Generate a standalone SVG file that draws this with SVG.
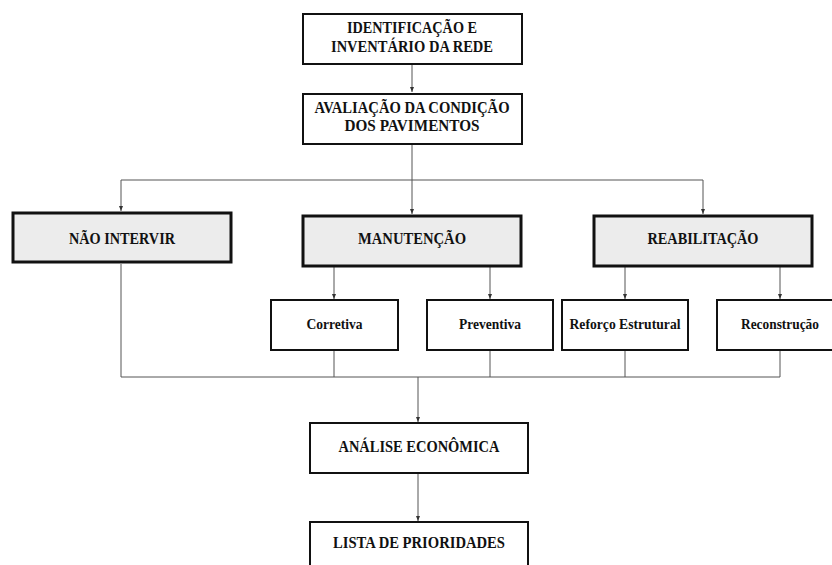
<svg xmlns="http://www.w3.org/2000/svg" width="832" height="565" viewBox="0 0 832 565">
<style>
text{font-family:"Liberation Serif","Times New Roman",serif;font-weight:bold;fill:#111;text-anchor:middle}
.t{font-size:16px}
.s{font-size:14.5px}
.w{fill:#fff;stroke:#111;stroke-width:2}
.g{fill:#ececec;stroke:#111;stroke-width:3}
.c{fill:none;stroke:#555;stroke-width:1}
</style>
<defs>
<marker id="a" markerWidth="5" markerHeight="4" refX="5" refY="2" orient="auto" markerUnits="userSpaceOnUse">
<path d="M0,0 L5,2 L0,4 z" fill="#333"/>
</marker>
</defs>
<rect width="832" height="565" fill="#fff"/>
<g id="connectors">
<path class="c" d="M412,65 V92" marker-end="url(#a)"/>
<path class="c" d="M412,145 V214" marker-end="url(#a)"/>
<path class="c" d="M121,180 H703"/>
<path class="c" d="M121,180 V211" marker-end="url(#a)"/>
<path class="c" d="M703,180 V214" marker-end="url(#a)"/>
<path class="c" d="M334,267 V299" marker-end="url(#a)"/>
<path class="c" d="M490,267 V299" marker-end="url(#a)"/>
<path class="c" d="M625,267 V299" marker-end="url(#a)"/>
<path class="c" d="M780,267 V299" marker-end="url(#a)"/>
<path class="c" d="M121,264 V377 H780 V351"/>
<path class="c" d="M334,351 V377"/>
<path class="c" d="M490,351 V377"/>
<path class="c" d="M625,351 V377"/>
<path class="c" d="M418,377 V422" marker-end="url(#a)"/>
<path class="c" d="M418,474 V521" marker-end="url(#a)"/>
</g>
<g id="n1"><rect class="w" x="303" y="14" width="219" height="50"/><text class="t" x="412" y="33" textLength="130" lengthAdjust="spacingAndGlyphs">IDENTIFICAÇÃO E</text><text class="t" x="412" y="52" textLength="162" lengthAdjust="spacingAndGlyphs">INVENTÁRIO DA REDE</text></g>
<g id="n2"><rect class="w" x="303" y="94" width="219" height="50"/><text class="t" x="412" y="113" textLength="195" lengthAdjust="spacingAndGlyphs">AVALIAÇÃO DA CONDIÇÃO</text><text class="t" x="412" y="131" textLength="135" lengthAdjust="spacingAndGlyphs">DOS PAVIMENTOS</text></g>
<g id="n3"><rect class="g" x="13" y="213" width="218" height="49"/><text class="t" x="122" y="244" textLength="106" lengthAdjust="spacingAndGlyphs">NÃO INTERVIR</text></g>
<g id="n4"><rect class="g" x="303" y="216" width="218" height="50"/><text class="t" x="412" y="244" textLength="108" lengthAdjust="spacingAndGlyphs">MANUTENÇÃO</text></g>
<g id="n5"><rect class="g" x="594" y="216" width="218" height="50"/><text class="t" x="703" y="244" textLength="111" lengthAdjust="spacingAndGlyphs">REABILITAÇÃO</text></g>
<g id="n6"><rect class="w" x="271" y="300" width="127" height="50"/><text class="s" x="334.5" y="329" textLength="56" lengthAdjust="spacingAndGlyphs">Corretiva</text></g>
<g id="n7"><rect class="w" x="427" y="300" width="126" height="50"/><text class="s" x="490" y="329" textLength="62" lengthAdjust="spacingAndGlyphs">Preventiva</text></g>
<g id="n8"><rect class="w" x="562" y="300" width="126" height="50"/><text class="s" x="625" y="329" textLength="111" lengthAdjust="spacingAndGlyphs">Reforço Estrutural</text></g>
<g id="n9"><rect class="w" x="717" y="300" width="126" height="50"/><text class="s" x="780" y="329" textLength="78" lengthAdjust="spacingAndGlyphs">Reconstrução</text></g>
<g id="n10"><rect class="w" x="310" y="423" width="218" height="50"/><text class="t" x="419" y="452" textLength="161" lengthAdjust="spacingAndGlyphs">ANÁLISE ECONÔMICA</text></g>
<g id="n11"><rect class="w" x="310" y="522" width="218" height="60"/><text class="t" x="419" y="548" textLength="172" lengthAdjust="spacingAndGlyphs">LISTA DE PRIORIDADES</text></g>
</svg>
